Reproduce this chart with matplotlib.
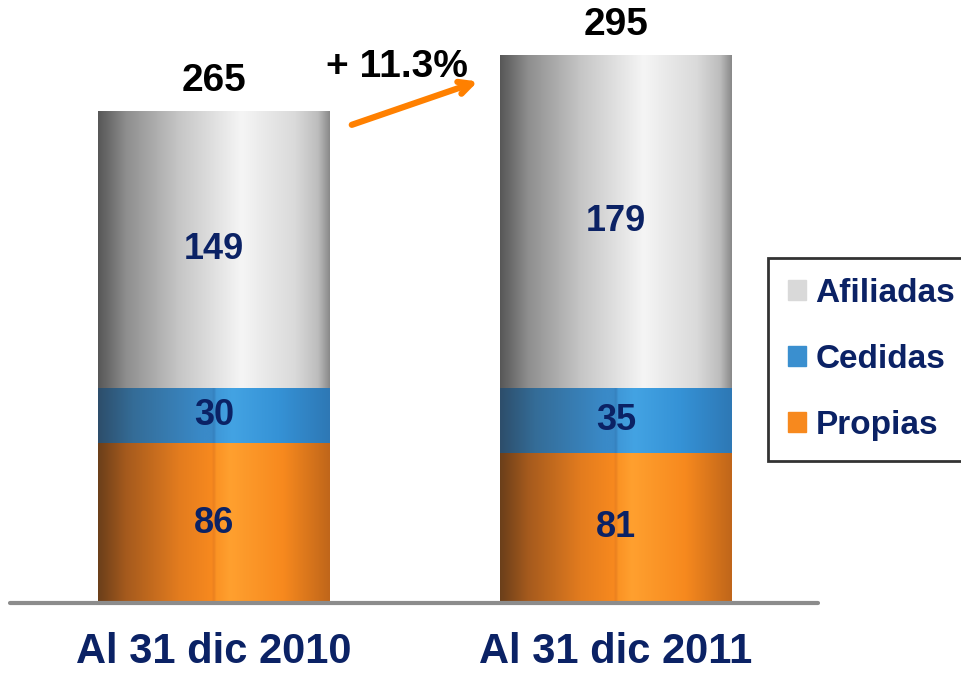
import matplotlib
matplotlib.use('Agg')
import matplotlib.pyplot as plt
import numpy as np
from matplotlib.colors import LinearSegmentedColormap

plt.rcParams['font.family'] = ['Liberation Sans', 'DejaVu Sans']
plt.rcParams['font.weight'] = 'bold'

# data
categories = ['Al 31 dic 2010', 'Al 31 dic 2011']
propias = [86, 81]
cedidas = [30, 35]
afiliadas = [149, 179]
series_names = ['Propias', 'Cedidas', 'Afiliadas']
growth_label = '+ 11.3%'

NAVY = '#0b2265'
LEGEND_COLORS = {'Propias': '#f7891e', 'Cedidas': '#3a8fcf', 'Afiliadas': '#d9d9d9'}

# horizontal cylinder shading for each series
GRADIENTS = {
    'Afiliadas': [(0.0, '#575757'), (0.12, '#8e8e8e'), (0.35, '#c6c6c6'),
                  (0.62, '#f5f5f5'), (0.85, '#dadada'), (0.95, '#bdbdbd'),
                  (1.0, '#8a8a8a')],
    'Cedidas': [(0.0, '#2d4e6b'), (0.15, '#346c97'), (0.45, '#3a8ac8'),
                (0.49, '#3a8ac8'), (0.5, '#3580bd'), (0.51, '#3f98d8'),
                (0.58, '#43a3e3'), (0.78, '#3592d6'), (1.0, '#2e78b5')],
    'Propias': [(0.0, '#6b3f1a'), (0.12, '#a55a1d'), (0.35, '#e37c1f'),
                (0.49, '#f7891e'), (0.5, '#e98020'), (0.51, '#fb9324'),
                (0.57, '#ffa02f'), (0.8, '#f7891e'), (1.0, '#c0661a')],
}


def shade_bars(ax, bars, name):
    cmap = LinearSegmentedColormap.from_list(name, GRADIENTS[name])
    grad = np.linspace(0, 1, 256).reshape(1, -1)
    for b in bars:
        x0, y0 = b.get_x(), b.get_y()
        w, h = b.get_width(), b.get_height()
        im = ax.imshow(grad, cmap=cmap, aspect='auto', interpolation='bicubic',
                       extent=(x0, x0 + w, y0, y0 + h), zorder=2)
        im.set_clip_path(b)


fig = plt.figure(figsize=(9.62, 6.74), dpi=100)
ax = fig.add_axes([10 / 962, 71 / 674, 808 / 962, 594 / 674])

x = np.arange(len(categories))
width = 0.577
bottoms = np.zeros(len(categories))
handles = {}
for name, vals in zip(series_names, [propias, cedidas, afiliadas]):
    bars = ax.bar(x, vals, width, bottom=bottoms, color='none',
                  edgecolor='none', zorder=1)
    shade_bars(ax, bars, name)
    for xi, v, b0 in zip(x, vals, bottoms):
        ax.text(xi, b0 + v / 2, str(v), ha='center', va='center',
                fontsize=26, color=NAVY, zorder=4)
    handles[name] = plt.Rectangle((0, 0), 1, 1, color=LEGEND_COLORS[name])
    bottoms = bottoms + np.array(vals)

totals = bottoms
for xi, t in zip(x, totals):
    ax.annotate(str(int(t)), (xi, t), xytext=(0, 22), textcoords='offset points',
                ha='center', va='center', fontsize=28, color='black')

# growth arrow
ax.annotate('', xy=(0.579, 0.878), xytext=(0.423, 0.805),
            xycoords='axes fraction',
            arrowprops=dict(arrowstyle='->,head_length=0.9,head_width=0.45',
                            color='#ff8000', lw=4.5, shrinkA=0, shrinkB=0))
ax.text(0.479, 0.903, growth_label, transform=ax.transAxes, ha='center',
        va='center', fontsize=28, color='black')

ax.set_xlim(-0.5075, 1.5025)
ax.set_ylim(0, 320)
ax.set_xticks(x)
ax.set_xticklabels(categories, fontsize=30, color=NAVY)
ax.tick_params(axis='x', length=0, pad=21)
ax.set_yticks([])
for s in ['top', 'right', 'left']:
    ax.spines[s].set_visible(False)
ax.spines['bottom'].set_color('#8c8c8c')
ax.spines['bottom'].set_linewidth(3)
ax.spines['bottom'].set_capstyle('round')

order = ['Afiliadas', 'Cedidas', 'Propias']
leg = fig.legend([handles[n] for n in order], order, loc='upper left',
                 bbox_to_anchor=(768 / 962, 1 - 258 / 674), fontsize=24,
                 frameon=True, fancybox=False, handlelength=0.55,
                 handleheight=0.55, handletextpad=0.28, labelspacing=1.05,
                 borderpad=0.6, borderaxespad=0)
leg.get_frame().set_edgecolor('black')
leg.get_frame().set_linewidth(2)
for t in leg.get_texts():
    t.set_color(NAVY)

fig.savefig('out.png', dpi=100)
